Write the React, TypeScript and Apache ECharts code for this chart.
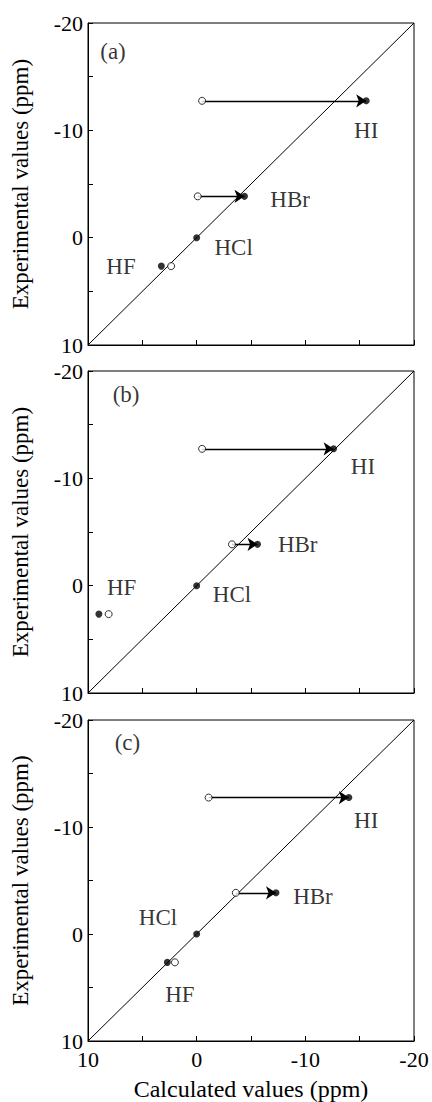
import React, { useEffect, useRef } from "react";
import * as echarts from "echarts";

// ---------- data ----------
const species = ["HF", "HCl", "HBr", "HI"];
const experimental = [2.65, 0, -3.85, -12.75];

// open circles (starting calculated values), null = not shown
const calcOpenA = [2.35, null, -0.1, -0.5];
const calcOpenB = [8.1, null, -3.25, -0.5];
const calcOpenC = [2.0, null, -3.6, -1.1];

// filled circles (final calculated values)
const calcFilledA = [3.25, 0, -4.4, -15.6];
const calcFilledB = [9.0, 0, -5.6, -12.6];
const calcFilledC = [2.7, 0, -7.3, -14.0];

// species with an arrow from open to filled
const arrowSpecies = ["HBr", "HI"];

// label anchor positions (data units)
const labelXA = [6.96, -3.4, -8.6, -15.6];
const labelYA = [2.7, 0.9, -3.6, -10.0];
const labelXB = [6.9, -3.25, -9.3, -15.3];
const labelYB = [0.2, 0.8, -3.8, -11.1];
const labelXC = [1.54, 3.56, -10.7, -15.6];
const labelYC = [5.68, -1.5, -3.46, -10.63];

const panelTags = ["(a)", "(b)", "(c)"];
const panelTagX = [7.7, 6.5, 6.37];
const panelTagY = [-17.3, -17.8, -17.9];

const axisMin = -20;
const axisMax = 10;
const axisInterval = 10;
const xTitle = "Calculated values (ppm)";
const yTitle = "Experimental values (ppm)";

const panels = [
  { open: calcOpenA, filled: calcFilledA, lx: labelXA, ly: labelYA },
  { open: calcOpenB, filled: calcFilledB, lx: labelXB, ly: labelYB },
  { open: calcOpenC, filled: calcFilledC, lx: labelXC, ly: labelYC },
];

const FONT = "Liberation Serif";
const gridTops = [23, 371, 720];

export default function App() {
  const ref = useRef<HTMLDivElement>(null);
  useEffect(() => {
    if (!ref.current) return;
    const chart = echarts.init(ref.current, null, { renderer: "svg" });
    const black = "#000";

    const grid = gridTops.map((t) => ({
      left: 88,
      top: t,
      width: 326,
      height: 322,
      show: true,
      borderColor: black,
      borderWidth: 1,
      backgroundColor: "transparent",
    }));

    const tickCommon = {
      axisLine: { show: true, onZero: false, lineStyle: { color: black, width: 1 } },
      axisTick: { show: true, inside: true, length: 5, lineStyle: { color: black, width: 1 } },
      minorTick: { show: true, splitNumber: 2, length: 5, lineStyle: { color: black, width: 1 } },
      splitLine: { show: false },
      minorSplitLine: { show: false },
    };

    const xAxis = panels.map((_, i) => ({
      gridIndex: i,
      type: "value",
      min: axisMin,
      max: axisMax,
      interval: axisInterval,
      inverse: true,
      ...tickCommon,
      axisLabel: {
        show: i === 2,
        color: black,
        fontFamily: FONT,
        fontSize: 22,
        lineHeight: 18,
        margin: 9,
      },
      name: i === 2 ? xTitle : "",
      nameLocation: "middle",
      nameGap: 36,
      nameTextStyle: { color: black, fontFamily: FONT, fontSize: 24 },
    }));

    const yAxis = panels.map((_, i) => ({
      gridIndex: i,
      type: "value",
      min: axisMin,
      max: axisMax,
      interval: axisInterval,
      inverse: true,
      ...tickCommon,
      axisLabel: {
        show: true,
        color: black,
        fontFamily: FONT,
        fontSize: 22,
        lineHeight: 18,
        margin: 5,
      },
      name: yTitle,
      nameLocation: "middle",
      nameGap: 56,
      nameTextStyle: { color: black, fontFamily: FONT, fontSize: 23 },
    }));

    const series: any[] = [];
    panels.forEach((p, i) => {
      // diagonal y = x
      series.push({
        type: "line",
        xAxisIndex: i,
        yAxisIndex: i,
        data: [
          [axisMax, axisMax],
          [axisMin, axisMin],
        ],
        symbol: "none",
        lineStyle: { color: black, width: 1 },
        silent: true,
        z: 1,
      });
      // arrows
      const arrows = arrowSpecies.map((s) => {
        const k = species.indexOf(s);
        return {
          coords: [
            [p.open[k], experimental[k]],
            [p.filled[k], experimental[k]],
          ],
        };
      });
      series.push({
        type: "lines",
        coordinateSystem: "cartesian2d",
        xAxisIndex: i,
        yAxisIndex: i,
        symbol: ["none", "arrow"],
        symbolSize: [0, 10],
        lineStyle: { color: black, width: 1.3, opacity: 1, curveness: 0 },
        data: arrows,
        silent: true,
        z: 2,
      });
      // open circles
      series.push({
        type: "scatter",
        xAxisIndex: i,
        yAxisIndex: i,
        symbol: "circle",
        symbolSize: 7,
        itemStyle: { color: "#fff", borderColor: black, borderWidth: 1 },
        data: p.open
          .map((x, k) => (x === null ? null : [x, experimental[k]]))
          .filter((d) => d !== null),
        silent: true,
        z: 3,
      });
      // filled circles
      series.push({
        type: "scatter",
        xAxisIndex: i,
        yAxisIndex: i,
        symbol: "circle",
        symbolSize: 7,
        itemStyle: { color: black },
        data: p.filled.map((x, k) => [x, experimental[k]]),
        silent: true,
        z: 4,
      });
      // species labels and panel tag
      const labelData = species.map((s, k) => ({ name: s, value: [p.lx[k], p.ly[k]] }));
      labelData.push({ name: panelTags[i], value: [panelTagX[i], panelTagY[i]] });
      series.push({
        type: "scatter",
        xAxisIndex: i,
        yAxisIndex: i,
        symbolSize: 0,
        data: labelData,
        silent: true,
        z: 5,
        label: {
          show: true,
          position: "inside",
          formatter: "{b}",
          color: black,
          fontFamily: FONT,
          fontSize: 23,
          align: "center",
          verticalAlign: "middle",
        },
      });
    });

    chart.setOption({
      animation: false,
      backgroundColor: "#fff",
      grid,
      xAxis,
      yAxis,
      series,
    });
    return () => chart.dispose();
  }, []);

  return (
    <div
      ref={ref}
      style={{ position: "absolute", left: 0, top: 0, width: 432, height: 1102 }}
    />
  );
}
